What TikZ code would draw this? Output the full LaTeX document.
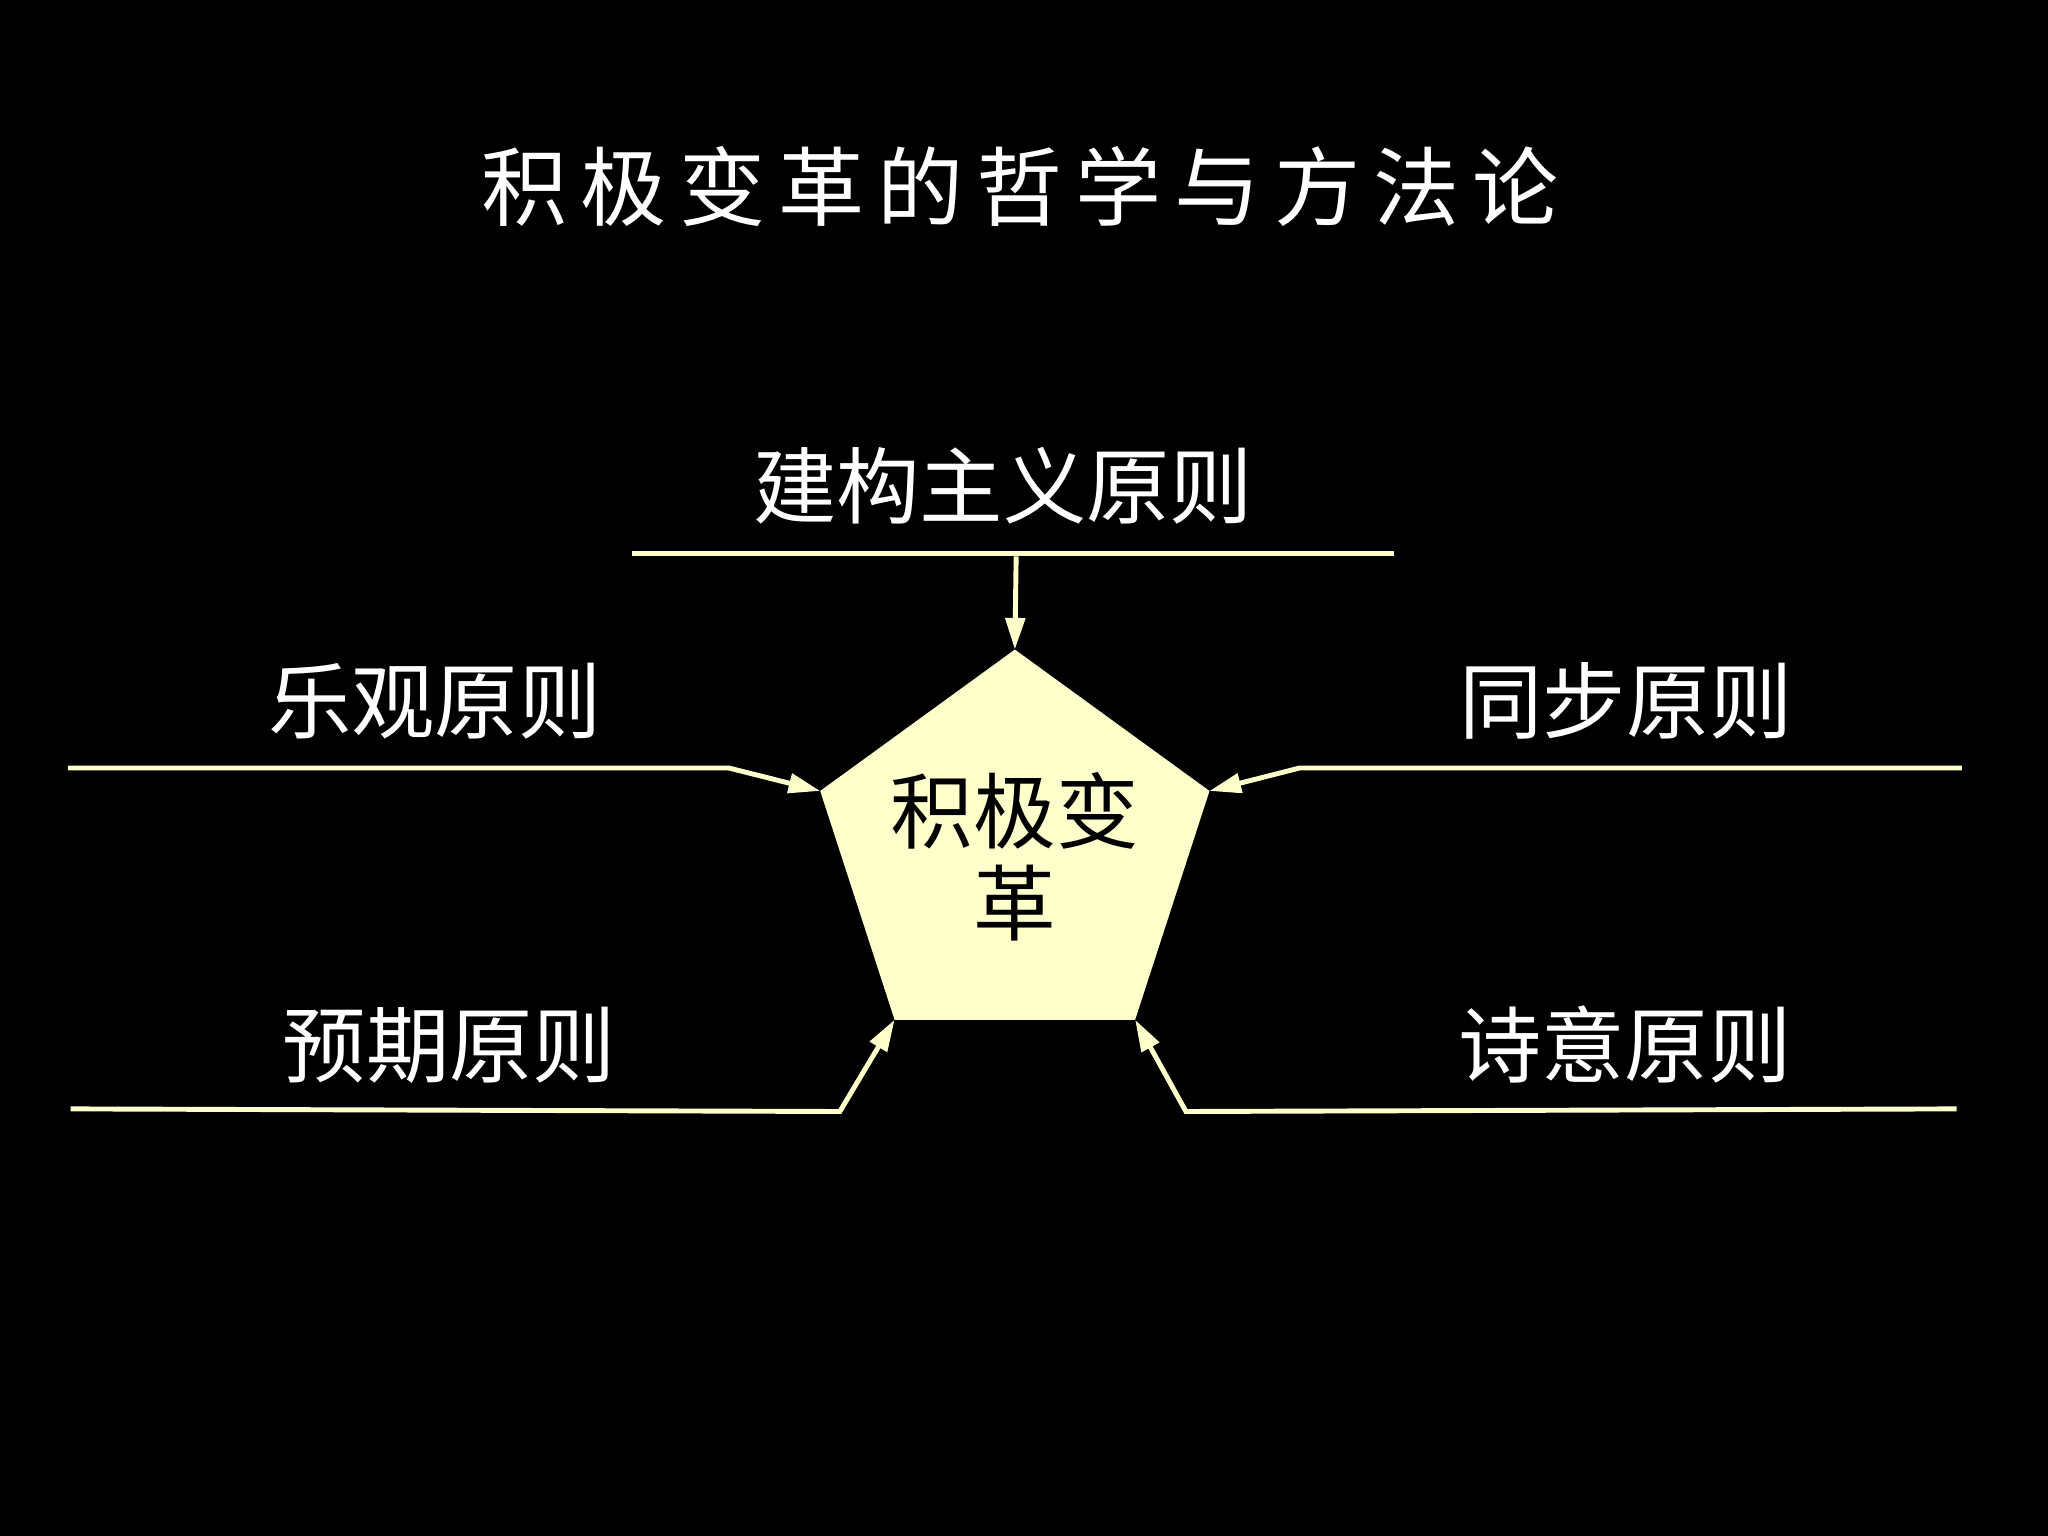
\documentclass[tikz,border=0pt]{standalone}
\usepackage{fontspec}
\newfontfamily\cjk{Noto Sans CJK SC}
\newfontfamily\cjkls[LetterSpace=15]{Noto Sans CJK SC}
\usetikzlibrary{arrows.meta,shapes.geometric}
\definecolor{lite}{HTML}{FFFFCC}
\begin{document}
\begin{tikzpicture}[x=0.013061cm,y=-0.013061cm,
  lbl/.style={text=white,font=\cjk\fontsize{23.7}{28}\selectfont,inner sep=0pt},
  conn/.style={draw=lite,line width=1.4pt,-{Triangle[length=9pt,width=5.5pt]}},
  plain/.style={draw=lite,line width=1.4pt}]
\fill[black] (0,0) rectangle (1568,1176);
\useasboundingbox (0,0) rectangle (1568,1176);

% title
\node[text=white,font=\cjkls\fontsize{24.5}{30}\selectfont,inner sep=0pt] (title) at (781,143) {积极变革的哲学与方法论};

% central pentagon
\node[regular polygon,regular polygon sides=5,minimum size=4.093cm,fill=lite,inner sep=0pt,outer sep=0pt] (pent) at (777,654) {};
\node[text=black,font=\cjk\fontsize{23.5}{26}\selectfont,align=center,inner sep=0pt] (core) at (777,656) {积极变\\革};

% labels
\node[lbl] (top) at (768,372) {建构主义原则};
\node[lbl] (ul) at (333,537) {乐观原则};
\node[lbl] (ur) at (1245,537) {同步原则};
\node[lbl] (ll) at (344,800) {预期原则};
\node[lbl] (lr) at (1244,800) {诗意原则};

% connector anchors
\coordinate (t1) at (484,424);
\coordinate (t2) at (1067,424);
\coordinate (ts) at (778,426);
\coordinate (a1) at (52,588);
\coordinate (a2) at (558,588);
\coordinate (b1) at (1502,588);
\coordinate (b2) at (995,588);
\coordinate (c1) at (54,849);
\coordinate (c2) at (643,851);
\coordinate (d1) at (1498,849);
\coordinate (d2) at (908,851);

\draw[plain] (t1) -- (t2);
\draw[conn] (ts) -- (pent.corner 1);
\draw[conn] (a1) -- (a2) -- (pent.corner 2);
\draw[conn] (b1) -- (b2) -- (pent.corner 5);
\draw[conn] (c1) -- (c2) -- (pent.corner 3);
\draw[conn] (d1) -- (d2) -- (pent.corner 4);
\end{tikzpicture}
\end{document}
